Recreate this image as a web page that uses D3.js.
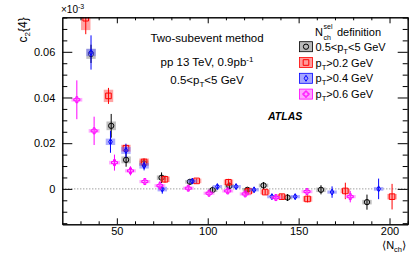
<!DOCTYPE html>
<html>
<head>
<meta charset="utf-8">
<script src="https://cdn.jsdelivr.net/npm/d3@7"></script>
<style>
  body { margin: 0; background: #fff; }
  svg { font-family: "Liberation Sans", Arial, sans-serif; display: block; }
</style>
</head>
<body>
<div id="chart"></div>
<script>
// <N_ch> and c2{4} per N_ch^sel definition
const grayX   = [35.8, 46.9, 55.1, 64.9, 74.6, 90.2, 102.7, 111.9, 121.8, 130.7, 143.9, 162.3, 187.6];
const grayY   = [0.0591, 0.0276, 0.0127, 0.0112, 0.0049, 0.0031, -0.0005, 0.0013, -0.0004, 0.0015, -0.0038, -0.0004, -0.0058];
const grayStat= [0.004, 0.0052, 0.003, 0.002, 0.0023, 0.0012, 0.0015, 0.0015, 0.001, 0.0015, 0.0015, 0.002, 0.0033];
const graySys = [0.0022, 0.0019, 0.0015, 0.0012, 0.001, 0.0008, 0.0008, 0.0008, 0.0008, 0.0008, 0.0008, 0.001, 0.001];

const redX    = [32.9, 45.4, 55.0, 65.0, 76.5, 93.9, 111.4, 122.5, 131.6, 140.8, 154.9, 175.7, 201.4];
const redY    = [0.0747, 0.0407, 0.0178, 0.0118, 0.0042, 0.0035, 0.0029, -0.0010, -0.0014, -0.0034, -0.0044, -0.0009, -0.0034];
const redStat = [0.007, 0.0035, 0.0016, 0.0015, 0.0015, 0.001, 0.0015, 0.0012, 0.0012, 0.0012, 0.0015, 0.0036, 0.0056];
const redSys  = [0.0052, 0.0027, 0.0015, 0.0015, 0.0012, 0.001, 0.0012, 0.001, 0.001, 0.001, 0.0012, 0.001, 0.0012];

const blueX   = [35.8, 46.5, 55.0, 65.0, 75.0, 91.5, 105.3, 115.6, 125.5, 135.3, 148.1, 168.4, 194.0];
const blueY   = [0.0597, 0.0206, 0.0168, 0.0101, -0.0001, 0.0034, 0.0010, 0.0010, -0.0004, -0.0034, -0.0034, -0.0014, 0.0];
const blueStat= [0.0075, 0.0048, 0.003, 0.002, 0.002, 0.0012, 0.0012, 0.0012, 0.001, 0.0012, 0.0012, 0.0025, 0.0045];
const blueSys = [0.0016, 0.0014, 0.0015, 0.0012, 0.001, 0.0007, 0.0007, 0.0007, 0.0007, 0.0007, 0.0007, 0.0007, 0.0008];

const pinkX   = [28.0, 37.5, 48.7, 57.5, 65.4, 73.7, 89.3, 100.7, 111.0, 120.6, 137.5, 154.6, 178.4];
const pinkY   = [0.0390, 0.0254, 0.0115, 0.0079, 0.0032, 0.0014, 0.0003, -0.0019, -0.0009, -0.0022, -0.0038, -0.0012, -0.0034];
const pinkStat= [0.0085, 0.0062, 0.0035, 0.002, 0.0015, 0.002, 0.0012, 0.0012, 0.0012, 0.0012, 0.0012, 0.0015, 0.0025];
const pinkSys = [0.0008, 0.0008, 0.0008, 0.0007, 0.0007, 0.0007, 0.0007, 0.0007, 0.0007, 0.0007, 0.0007, 0.0007, 0.0007];

const xMajor = [50, 100, 150, 200];
const yMajor = [0, 0.02, 0.04, 0.06];
const yTickLabels = ["0", "0.02", "0.04", "0.06"];

const width = 415, height = 259;
const marginLeft = 62.3, marginRight = 7.3, marginTop = 17.3, marginBottom = 34.7;

const x = d3.scaleLinear([20, 210], [marginLeft, width - marginRight]);
const y = d3.scaleLinear([-0.0155, 0.0751], [height - marginBottom, marginTop]);

const series = [
  { name: "gray", X: grayX, Y: grayY, S: grayStat, B: graySys, line: "#000", box: "#8c8c8c", mark: "circle", bw: 2.6 },
  { name: "red",  X: redX,  Y: redY,  S: redStat,  B: redSys,  line: "#ff0000", box: "#ff5a5a", mark: "square", bw: 2.6 },
  { name: "blue", X: blueX, Y: blueY, S: blueStat, B: blueSys, line: "#0000ff", box: "#6a6aff", mark: "diamond", bw: 2.6 },
  { name: "pink", X: pinkX, Y: pinkY, S: pinkStat, B: pinkSys, line: "#ff00ff", box: "#ff6aff", mark: "cross", bw: 3.0 }
];

const svg = d3.select("#chart").append("svg")
    .attr("width", width)
    .attr("height", height)
    .attr("viewBox", [0, 0, width, height]);

svg.append("clipPath").attr("id", "clip")
  .append("rect")
    .attr("x", marginLeft).attr("y", marginTop)
    .attr("width", width - marginRight - marginLeft)
    .attr("height", height - marginBottom - marginTop);

// zero line
svg.append("line")
    .attr("x1", x(20)).attr("x2", x(210))
    .attr("y1", y(0)).attr("y2", y(0))
    .attr("stroke", "#777")
    .attr("stroke-dasharray", "1,2");

function markerPath(type) {
  if (type === "circle") return d3.symbol(d3.symbolCircle, 22)();
  if (type === "square") return "M-2.8,-2.8H2.8V2.8H-2.8Z";
  if (type === "diamond") return "M0,-3L1.8,0L0,3L-1.8,0Z";
  // open cross
  return "M-1,-3H1V-1H3V1H1V3H-1V1H-3V-1H-1Z";
}

const plot = svg.append("g").attr("clip-path", "url(#clip)");

series.forEach(s => {
  const I = d3.range(s.X.length);
  const g = plot.append("g");

  g.selectAll("rect.sys")
    .data(I)
    .join("rect")
      .attr("x", i => x(s.X[i] - s.bw))
      .attr("width", i => x(s.X[i] + s.bw) - x(s.X[i] - s.bw))
      .attr("y", i => y(s.Y[i] + s.B[i]))
      .attr("height", i => y(s.Y[i] - s.B[i]) - y(s.Y[i] + s.B[i]))
      .attr("fill", s.box)
      .attr("fill-opacity", 0.55);

  g.selectAll("line.stat")
    .data(I)
    .join("line")
      .attr("x1", i => x(s.X[i])).attr("x2", i => x(s.X[i]))
      .attr("y1", i => y(s.Y[i] + s.S[i]))
      .attr("y2", i => y(s.Y[i] - s.S[i]))
      .attr("stroke", s.line)
      .attr("stroke-width", 1);

  g.selectAll("path.mark")
    .data(I)
    .join("path")
      .attr("transform", i => `translate(${x(s.X[i])},${y(s.Y[i])})`)
      .attr("d", markerPath(s.mark))
      .attr("fill", "none")
      .attr("stroke", s.line)
      .attr("stroke-width", 1);
});

// frame and ticks
const xMinor = d3.range(30, 211, 10).filter(v => !xMajor.includes(v));
const yMinor = d3.range(-15, 76, 5).map(v => v / 1000).filter(v => !yMajor.some(m => Math.abs(m - v) < 1e-9));

function axisStyle(g) {
  g.select(".domain").attr("stroke", "#000");
  g.selectAll(".tick line").attr("stroke", "#000");
  g.selectAll(".tick text").attr("fill", "#000");
}

svg.append("g")
    .attr("transform", `translate(0,${height - marginBottom})`)
    .call(d3.axisBottom(x).tickValues(xMajor).tickSizeInner(-6).tickSizeOuter(0).tickPadding(3))
    .call(axisStyle)
    .call(g => g.selectAll(".tick text").attr("font-size", 11));
svg.append("g")
    .attr("transform", `translate(0,${height - marginBottom})`)
    .call(d3.axisBottom(x).tickValues(xMinor).tickSizeInner(-3).tickSizeOuter(0).tickFormat(""))
    .call(axisStyle);
svg.append("g")
    .attr("transform", `translate(0,${marginTop})`)
    .call(d3.axisTop(x).tickValues(xMajor).tickSizeInner(-6).tickSizeOuter(0).tickFormat(""))
    .call(axisStyle);
svg.append("g")
    .attr("transform", `translate(0,${marginTop})`)
    .call(d3.axisTop(x).tickValues(xMinor).tickSizeInner(-3).tickSizeOuter(0).tickFormat(""))
    .call(axisStyle);

svg.append("g")
    .attr("transform", `translate(${marginLeft},0)`)
    .call(d3.axisLeft(y).tickValues(yMajor).tickSizeInner(-10).tickSizeOuter(0).tickPadding(7)
      .tickFormat((d, i) => yTickLabels[i]))
    .call(axisStyle)
    .call(g => g.selectAll(".tick text").attr("font-size", 11));
svg.append("g")
    .attr("transform", `translate(${marginLeft},0)`)
    .call(d3.axisLeft(y).tickValues(yMinor).tickSizeInner(-5).tickSizeOuter(0).tickFormat(""))
    .call(axisStyle);
svg.append("g")
    .attr("transform", `translate(${width - marginRight},0)`)
    .call(d3.axisRight(y).tickValues(yMajor).tickSizeInner(-10).tickSizeOuter(0).tickFormat(""))
    .call(axisStyle);
svg.append("g")
    .attr("transform", `translate(${width - marginRight},0)`)
    .call(d3.axisRight(y).tickValues(yMinor).tickSizeInner(-5).tickSizeOuter(0).tickFormat(""))
    .call(axisStyle);

// axis titles
const yt = svg.append("text")
    .attr("transform", `translate(27,${marginTop}) rotate(-90)`)
    .attr("text-anchor", "end")
    .attr("font-size", 12);
yt.append("tspan").text("c");
yt.append("tspan").attr("font-size", 8).attr("dy", 3).text("2");
yt.append("tspan").attr("dy", -3).text("{4}");

const ex = svg.append("text").attr("x", 61).attr("y", 13).attr("font-size", 10);
ex.append("tspan").text("×10");
ex.append("tspan").attr("font-size", 7).attr("dy", -4).text("-3");

const xt = svg.append("text").attr("x", 406).attr("y", 249).attr("text-anchor", "end").attr("font-size", 11);
xt.append("tspan").text("⟨N");
xt.append("tspan").attr("font-size", 7.5).attr("dy", 3).text("ch");
xt.append("tspan").attr("dy", -3).text("⟩");

// labels
function ptText(sel, pre, post) {
  sel.append("tspan").text(pre + "p");
  sel.append("tspan").attr("font-size", "0.7em").attr("dy", 3).text("T");
  sel.append("tspan").attr("dy", -3).text(post);
}

svg.append("text").attr("x", 207).attr("y", 42).attr("text-anchor", "middle").attr("font-size", 11.5)
    .text("Two-subevent method");
const lumi = svg.append("text").attr("x", 207).attr("y", 66).attr("text-anchor", "middle").attr("font-size", 11.5);
lumi.append("tspan").text("pp 13 TeV, 0.9pb");
lumi.append("tspan").attr("font-size", 8).attr("dy", -4).text("-1");
const cut = svg.append("text").attr("x", 207).attr("y", 84).attr("text-anchor", "middle").attr("font-size", 11.5);
ptText(cut, "0.5<", "<5 GeV");

svg.append("text").attr("x", 268).attr("y", 120)
    .attr("font-size", 10.5).attr("font-weight", "bold").attr("font-style", "italic")
    .text("ATLAS");

// legend header: N with stacked sel / ch
svg.append("text").attr("x", 315).attr("y", 36).attr("font-size", 11).text("N");
svg.append("text").attr("x", 323.5).attr("y", 29).attr("font-size", 7).text("sel");
svg.append("text").attr("x", 323.5).attr("y", 40).attr("font-size", 7).text("ch");
svg.append("text").attr("x", 337).attr("y", 36).attr("font-size", 11).text("definition");

const legendText = [["0.5<", "<5 GeV"], ["", ">0.2 GeV"], ["", ">0.4 GeV"], ["", ">0.6 GeV"]];
series.forEach((s, k) => {
  const cy = 46.7 + k * 15.8;
  svg.append("rect")
      .attr("x", 299.5).attr("y", cy - 5).attr("width", 13).attr("height", 10)
      .attr("fill", s.box).attr("fill-opacity", 0.6)
      .attr("stroke", s.line).attr("stroke-width", 0.8);
  svg.append("path")
      .attr("transform", `translate(306,${cy})`)
      .attr("d", markerPath(s.mark))
      .attr("fill", "none").attr("stroke", s.line);
  const t = svg.append("text").attr("x", 315.5).attr("y", cy + 4).attr("font-size", 11);
  ptText(t, legendText[k][0], legendText[k][1]);
});
</script>
</body>
</html>
